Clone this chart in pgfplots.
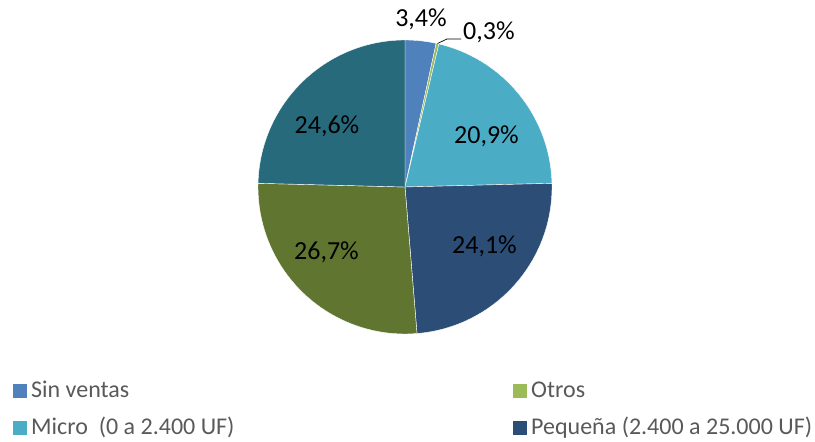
\documentclass[border=0pt]{standalone}
\usepackage{pgfplots}
\pgfplotsset{compat=1.18}
\usepackage{fontspec}
\setmainfont{Carlito}

\definecolor{cSin}{HTML}{4F81BD}
\definecolor{cOtros}{HTML}{9BBB59}
\definecolor{cMicro}{HTML}{4BACC6}
\definecolor{cPeq}{HTML}{2C4D75}
\definecolor{cMed}{HTML}{5F7530}
\definecolor{cGra}{HTML}{276A7C}
\definecolor{legtxt}{HTML}{595959}

\begin{document}
\begin{tikzpicture}
\def\cx{405}\def\cy{255}\def\rr{147}
\gdef\startang{90}
\begin{axis}[
    width=815pt, height=442pt, scale only axis,
    xmin=0, xmax=815, ymin=0, ymax=442,
    hide axis, clip=false]
% keep the whole canvas in the bounding box
\path (axis cs:0,0) rectangle (axis cs:815,442);
% slices, clockwise from the top: value/colour
\foreach \v/\col in {3.4/cSin, 0.3/cOtros, 20.9/cMicro, 24.1/cPeq, 26.7/cMed, 24.6/cGra}{
    \pgfmathsetmacro\endang{\startang-3.6*\v}
    \pgfmathsetmacro\px{\cx+\rr*cos(\startang)}
    \pgfmathsetmacro\py{\cy+\rr*sin(\startang)}
    \edef\doit{\noexpand\fill[\col, draw=white, line width=0.4pt]
        (axis cs:\cx,\cy) -- (axis cs:\px,\py)
        arc[start angle=\startang, end angle=\endang, radius=\rr pt] -- cycle;}
    \doit
    \global\let\startang\endang
}
% data labels
\tikzset{lab/.style={font=\fontsize{26}{30}\selectfont, inner sep=0pt, anchor=base}}
\node[lab] at (axis cs:421,415) {3,4\%};
\node[lab, anchor=base west] at (axis cs:463,402) {0,3\%};
\draw[black, line width=0.7pt] (axis cs:437.5,398.5) -- (axis cs:447,403) -- (axis cs:461,403);
\node[lab] at (axis cs:486.5,298) {20,9\%};
\node[lab] at (axis cs:484.5,188) {24,1\%};
\node[lab] at (axis cs:326.5,182) {26,7\%};
\node[lab] at (axis cs:327,308) {24,6\%};
% legend
\tikzset{leg/.style={font=\fontsize{24}{28}\selectfont, text=legtxt, inner sep=0pt, anchor=base west}}
\fill[cSin] (axis cs:13,44) rectangle (axis cs:27,58);
\node[leg] at (axis cs:31,44) {Sin ventas};
\fill[cOtros] (axis cs:513,44) rectangle (axis cs:527,58);
\node[leg] at (axis cs:531,44) {Otros};
\fill[cMicro] (axis cs:13,7) rectangle (axis cs:27,21);
\node[leg] at (axis cs:31,7) {Micro\ \ (0 a 2.400 UF)};
\fill[cPeq] (axis cs:513,7) rectangle (axis cs:527,21);
\node[leg] at (axis cs:531,7) {Pequeña (2.400 a 25.000 UF)};
\end{axis}
\end{tikzpicture}
\end{document}
